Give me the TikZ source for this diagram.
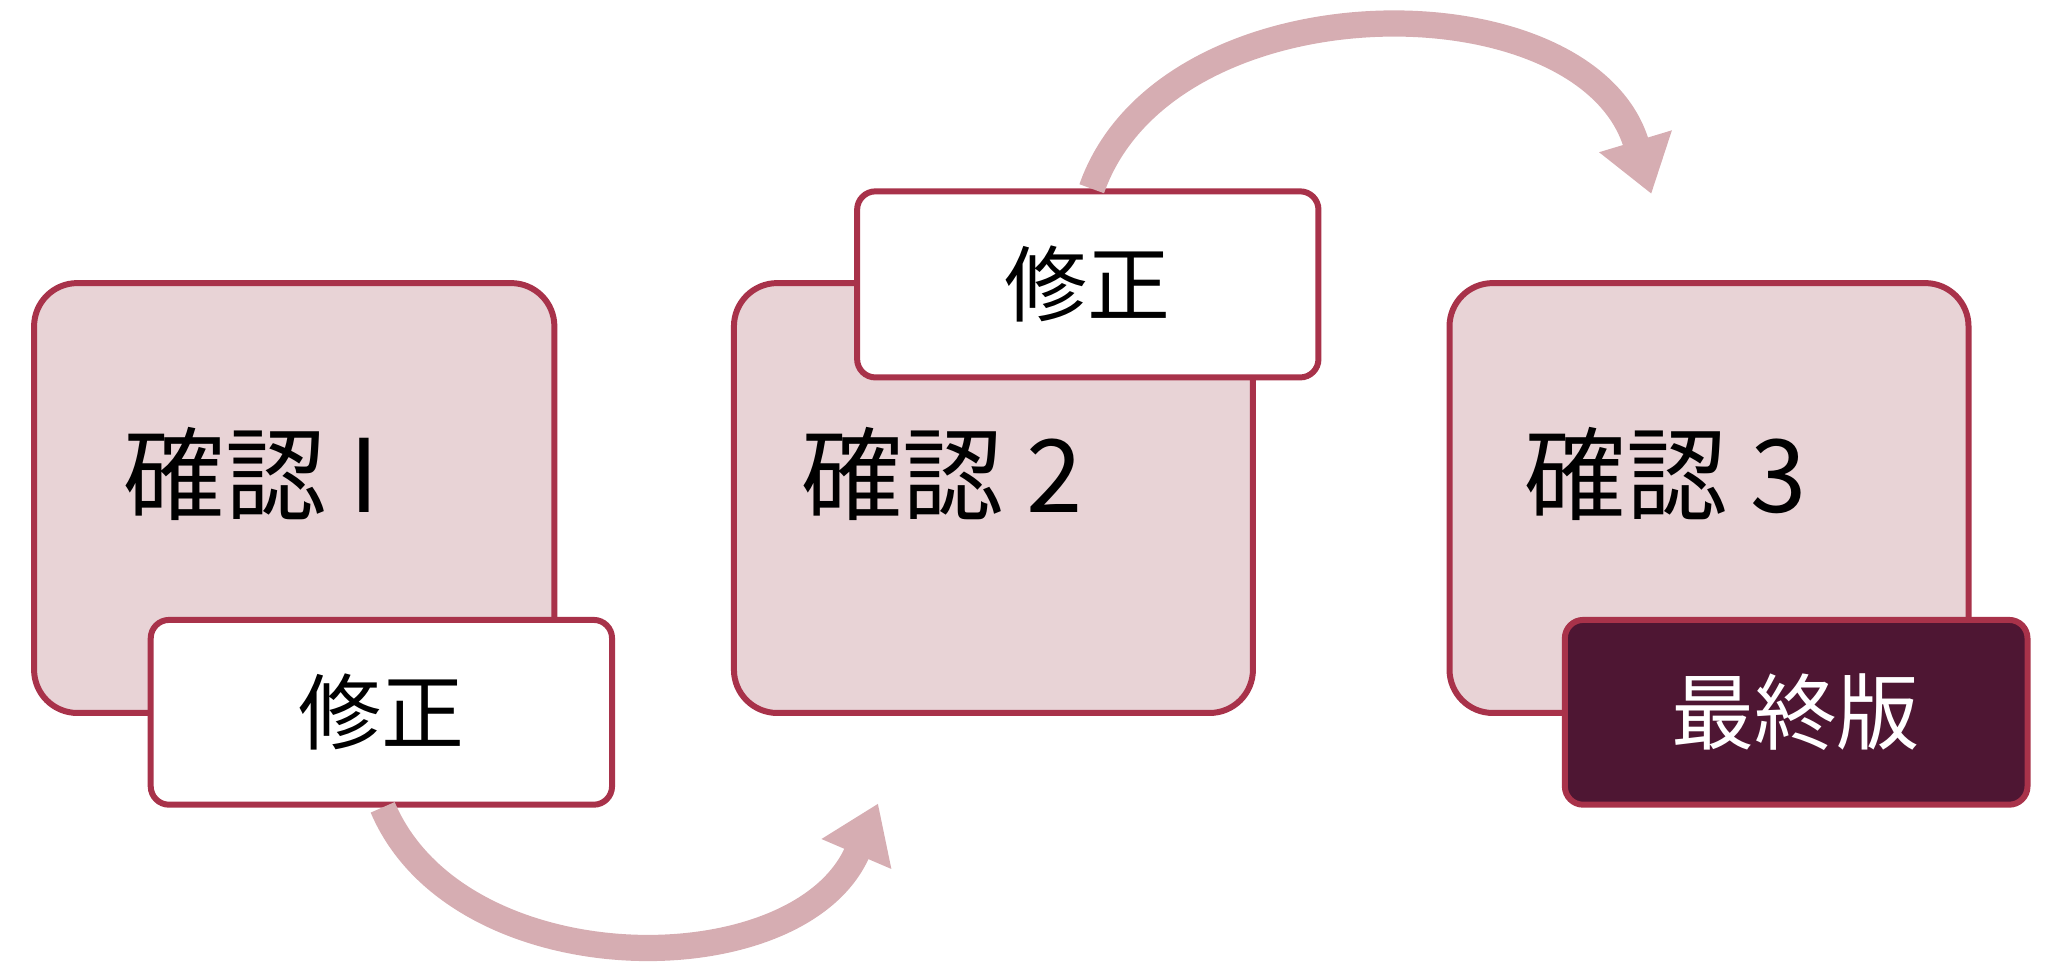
\documentclass[tikz,border=0pt]{standalone}
\usepackage{fontspec}
\setmainfont{Noto Sans CJK JP}
\usetikzlibrary{arrows.meta}
\definecolor{boxfill}{HTML}{E8D3D6}
\definecolor{boxline}{HTML}{A8324A}
\definecolor{darkfill}{HTML}{4E1633}
\definecolor{arcpink}{HTML}{D6ADB2}
\tikzset{
	bigbox/.style = {draw = boxline, fill = boxfill, line width = 1.3pt, rounded corners = 0.33cm},
	smallbox/.style = {draw = boxline, fill = white, line width = 1.3pt, rounded corners = 0.14cm},
	arc/.style = {draw = arcpink, line width = 0.2cm, -{Triangle[length=0.42cm,width=0.55cm]}}
}
\begin{document}
\begin{tikzpicture}
	\useasboundingbox (0,0) rectangle (15.68,7.44);
	% checks
	\draw[bigbox] (0.26,2.00) rectangle (4.23,5.28);
	\draw[bigbox] (5.60,2.00) rectangle (9.56,5.28);
	\draw[bigbox] (11.06,2.00) rectangle (15.02,5.28);
	\node[anchor=west, font=\fontsize{22}{26}\selectfont] (c1) at (0.82,3.82) {確認 I};
	\node[anchor=west, font=\fontsize{22}{26}\selectfont] (c2) at (5.99,3.82) {確認 2};
	\node[anchor=west, font=\fontsize{22}{26}\selectfont] (c3) at (11.51,3.82) {確認 3};

	% fixes
	\draw[smallbox] (1.15,1.30) rectangle (4.67,2.71);
	\node[font=\fontsize{18}{22}\selectfont] (f1) at (2.91,2.01) {修正};
	\draw[smallbox] (6.54,4.56) rectangle (10.06,5.98);
	\node[font=\fontsize{18}{22}\selectfont] (f2) at (8.30,5.27) {修正};
	\draw[smallbox, fill = darkfill] (11.94,1.30) rectangle (15.47,2.71);
	\node[font=\fontsize{18}{22}\selectfont, text=white] (fin) at (13.70,2.01) {最終版};

	% arcs
	\coordinate (a1) at (2.92,1.28);
	\coordinate (b1) at (6.70,1.31);
	\coordinate (a2) at (8.33,6.00);
	\coordinate (b2) at (12.60,5.96);
	\draw[arc] (a1) .. controls (3.5,-0.09) and (6.1,-0.09) .. (b1);
	\draw[arc] (a2) .. controls (8.9,7.62) and (12.1,7.62) .. (b2);
\end{tikzpicture}
\end{document}
